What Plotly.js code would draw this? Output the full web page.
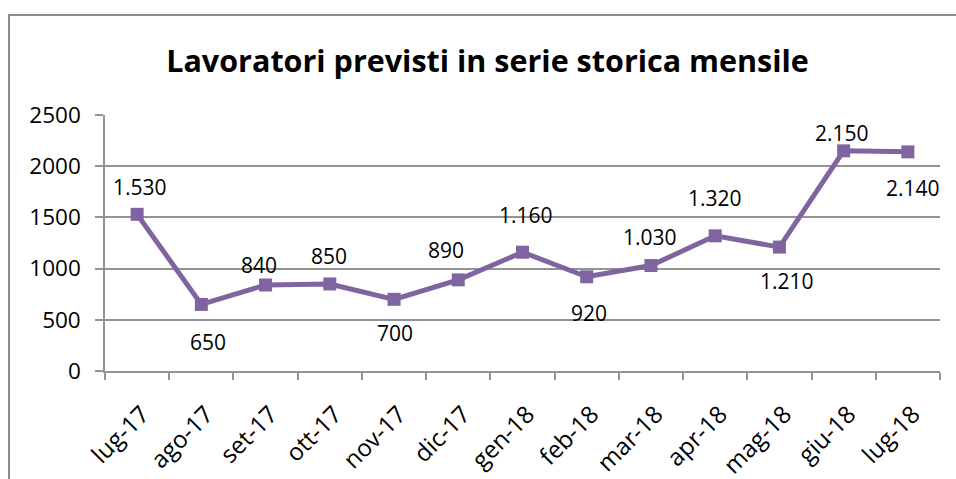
<!DOCTYPE html>
<html>
<head>
<meta charset="utf-8">
<script src="https://cdn.plot.ly/plotly-3.0.1.min.js"></script>
<style>
  html, body { margin: 0; padding: 0; background: #fff; overflow: hidden; }
  #chart { width: 956px; height: 479px; }
  #frame { position: absolute; left: 8px; top: 14px; width: 1200px; height: 1200px;
           border-left: 2px solid #8c8c8c; border-top: 2px solid #8c8c8c; pointer-events: none; }
</style>
</head>
<body>
<div id="chart"></div>
<div id="frame"></div>
<script>
const categories = ["lug-17","ago-17","set-17","ott-17","nov-17","dic-17","gen-18","feb-18","mar-18","apr-18","mag-18","giu-18","lug-18"];
const values = [1530, 650, 840, 850, 700, 890, 1160, 920, 1030, 1320, 1210, 2150, 2140];
const yTicks = [0, 500, 1000, 1500, 2000, 2500];

// data-label placement (pixel shifts from each point), as in the original chart
const labelShiftX = [3, 7, -7, -1, 1, -12, 3, 2, -1, 0, 8, -2, 5];
const labelShiftY = [27, -38, 20, 28, -34, 30, 37, -36, 29, 38, -34, 18, -36];

function fmtIt(v) {
  return String(v).replace(/\B(?=(\d{3})+(?!\d))/g, ".");
}

const FONT = "Open Sans, Liberation Sans, sans-serif";

const trace = {
  x: categories,
  y: values,
  type: "scatter",
  mode: "lines+markers",
  line: { color: "#8064A2", width: 5 },
  marker: { symbol: "square", size: 13, color: "#8064A2" },
  cliponaxis: false,
  hoverinfo: "x+y"
};

const annotations = categories.map((c, i) => ({
  x: c,
  y: values[i],
  xref: "x",
  yref: "y",
  text: fmtIt(values[i]),
  showarrow: false,
  xanchor: "center",
  yanchor: "middle",
  xshift: labelShiftX[i],
  yshift: labelShiftY[i],
  font: { family: FONT, size: 21, color: "#000" }
}));

const layout = {
  width: 956,
  height: 479,
  margin: { l: 105, r: 16, t: 115, b: 108 },
  paper_bgcolor: "#ffffff",
  plot_bgcolor: "#ffffff",
  showlegend: false,
  annotations: annotations,
  title: {
    text: "<b>Lavoratori previsti in serie storica mensile</b>",
    font: { family: FONT, size: 30.5, color: "#000" },
    x: 0.51, xanchor: "center",
    y: 0.873, yanchor: "middle"
  },
  xaxis: {
    type: "category",
    range: [-0.5, 12.5],
    tickson: "boundaries",
    ticks: "outside",
    ticklen: 7,
    tickwidth: 1.5,
    tickcolor: "#939393",
    showline: true,
    linecolor: "#939393",
    linewidth: 1.5,
    showgrid: false,
    tickangle: -45,
    tickfont: { family: FONT, size: 24, color: "#000" },
    ticklabelstandoff: 18,
    ticklabelshift: 5,
    fixedrange: true
  },
  yaxis: {
    range: [0, 2500],
    tickvals: yTicks,
    ticktext: yTicks.map(String),
    ticks: "outside",
    ticklen: 8,
    tickwidth: 1.5,
    tickcolor: "#939393",
    showline: true,
    linecolor: "#939393",
    linewidth: 1.5,
    showgrid: true,
    gridcolor: "#939393",
    gridwidth: 1.5,
    zeroline: false,
    tickfont: { family: FONT, size: 22.5, color: "#000" },
    ticklabelstandoff: 10,
    fixedrange: true
  }
};

Plotly.newPlot("chart", [trace], layout, { displayModeBar: false });
</script>
</body>
</html>
